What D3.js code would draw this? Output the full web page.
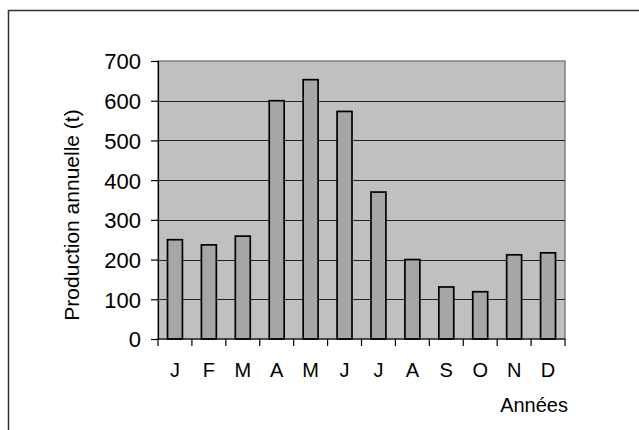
<!DOCTYPE html>
<html><head><meta charset="utf-8">
<script src="https://cdn.jsdelivr.net/npm/d3@7"></script>
<style>body{margin:0;background:#fff}svg{display:block}text{font-family:Arial,"Liberation Sans",sans-serif;fill:#000}</style>
</head><body>
<svg id="c" width="639" height="430"></svg>
<script>
const months = ["J","F","M","A","M","J","J","A","S","O","N","D"];
const values = [250,237,259,600,653,573,370,200,131,119,212,217];
const yTicks = [0,100,200,300,400,500,600,700];
const yLabel = "Production annuelle (t)";
const xLabel = "Années";

const svg = d3.select("#c");
const L=158, R=565, T=61, B=339;
const idx = months.map((m,i)=>i);
const x = d3.scaleBand().domain(idx).range([L,R]).paddingInner(0.56).paddingOuter(0.28);
const xb = d3.scaleBand().domain(idx).range([L,R]);
const y = d3.scaleLinear().domain([0,700]).range([B,T]);

// outer frame
svg.append("rect").attr("x",8.5).attr("y",10.5).attr("width",800).attr("height",600)
  .attr("fill","none").attr("stroke","#333").attr("stroke-width",1.5);

// plot area
svg.append("rect").attr("x",L).attr("y",T).attr("width",R-L).attr("height",B-T)
  .attr("fill","#c0c0c0").attr("stroke","#808080").attr("stroke-width",1.5);

// gridlines
svg.append("g").selectAll("line").data(yTicks.filter(d=>d>0 && d<700)).join("line")
  .attr("x1",L).attr("x2",R).attr("y1",d=>Math.round(y(d))+0.5).attr("y2",d=>Math.round(y(d))+0.5)
  .attr("stroke","#222").attr("stroke-width",1.2);

// bars
svg.append("g").selectAll("rect").data(values).join("rect")
  .attr("x",(d,i)=>x(i)).attr("width",x.bandwidth())
  .attr("y",d=>y(d)).attr("height",d=>B-y(d))
  .attr("fill","#a6a6a6").attr("stroke","#000").attr("stroke-width",1.7);

// y axis
const ya = svg.append("g").attr("transform",`translate(${L},0)`)
  .call(d3.axisLeft(y).tickValues(yTicks).tickSize(7).tickPadding(10).tickFormat(d3.format("d")));
ya.select(".domain").attr("stroke","#000").attr("stroke-width",1.2);
ya.selectAll(".tick line").attr("stroke","#000").attr("stroke-width",1.2);
ya.selectAll(".tick text").attr("font-size",22).attr("font-family","Arial, 'Liberation Sans', sans-serif").attr("fill","#000").attr("dy","0.36em");

// x axis
const xa = svg.append("g").attr("transform",`translate(0,${B})`);
xa.append("line").attr("x1",L).attr("x2",R).attr("stroke","#000").attr("stroke-width",1.2);
xa.selectAll("line.tk").data(d3.range(13)).join("line").attr("class","tk")
  .attr("x1",i=>L+i*xb.step()).attr("x2",i=>L+i*xb.step()).attr("y1",0).attr("y2",7)
  .attr("stroke","#000").attr("stroke-width",1.2);
xa.selectAll("text").data(months).join("text")
  .attr("x",(d,i)=>xb(i)+xb.bandwidth()/2).attr("y",38)
  .attr("text-anchor","middle").attr("font-size",20).text(d=>d);

// axis titles
svg.append("text").attr("transform","translate(79,215) rotate(-90)")
  .attr("text-anchor","middle").attr("font-size",21).text(yLabel);
svg.append("text").attr("x",568).attr("y",412).attr("text-anchor","end")
  .attr("font-size",20).text(xLabel);
</script>
</body></html>
